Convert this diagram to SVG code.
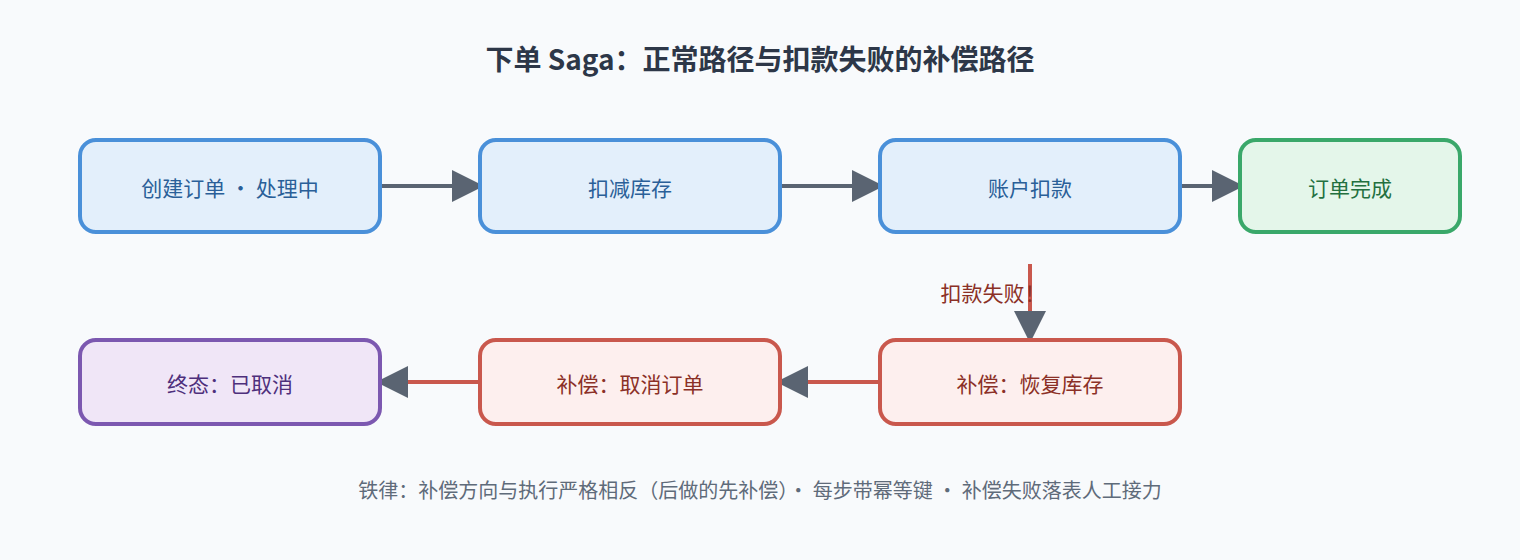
<svg xmlns="http://www.w3.org/2000/svg" width="1520" height="560" viewBox="0 0 1520 560">
<style>
text{font-family:"Noto Sans CJK SC","Noto Sans",sans-serif;text-anchor:middle;dominant-baseline:central}
.t{font-size:28px;font-weight:bold;fill:#2d3748}
.n{font-size:21px}
.blue rect{fill:#e3effb;stroke:#4a90d9;stroke-width:4}
.blue text{fill:#2a5f98}
.green rect{fill:#e4f6ea;stroke:#3aa86a;stroke-width:4}
.green text{fill:#23703f}
.red rect{fill:#fdefee;stroke:#c9584d;stroke-width:4}
.red text{fill:#8b3026}
.purple rect{fill:#f0e6f7;stroke:#7c58b0;stroke-width:4}
.purple text{fill:#4e2f7c}
.c{stroke-width:4;fill:none}
.g{stroke:#5a6472}
.r{stroke:#c9584d}
</style>
<defs>
<marker id="ah" viewBox="0 0 10 10" refX="10" refY="5" markerWidth="8" markerHeight="8" orient="auto"><path d="M0,0 L10,5 L0,10 z" fill="#5a6472"/></marker>
</defs>
<rect width="1520" height="560" fill="#f8fafc"/>
<text class="t" x="760" y="58">下单 Saga：正常路径与扣款失败的补偿路径</text>
<g id="connectors">
<line class="c g" x1="380" y1="186" x2="484" y2="186" marker-end="url(#ah)"/>
<line class="c g" x1="780" y1="186" x2="884" y2="186" marker-end="url(#ah)"/>
<line class="c g" x1="1180" y1="186" x2="1244" y2="186" marker-end="url(#ah)"/>
<line class="c r" x1="1030" y1="264" x2="1030" y2="343" marker-end="url(#ah)"/>
<line class="c r" x1="880" y1="382" x2="776" y2="382" marker-end="url(#ah)"/>
<line class="c r" x1="480" y1="382" x2="376" y2="382" marker-end="url(#ah)"/>
<text class="n" x="993" y="292" fill="#8b3026">扣款失败！</text>
</g>
<g id="create" class="blue"><rect x="80" y="140" width="300" height="92" rx="16"/><text class="n" x="230" y="187">创建订单 · 处理中</text></g>
<g id="stock" class="blue"><rect x="480" y="140" width="300" height="92" rx="16"/><text class="n" x="630" y="187">扣减库存</text></g>
<g id="pay" class="blue"><rect x="880" y="140" width="300" height="92" rx="16"/><text class="n" x="1030" y="187">账户扣款</text></g>
<g id="done" class="green"><rect x="1240" y="140" width="220" height="92" rx="16"/><text class="n" x="1350" y="187">订单完成</text></g>
<g id="restore" class="red"><rect x="880" y="340" width="300" height="84" rx="16"/><text class="n" x="1030" y="383">补偿：恢复库存</text></g>
<g id="cancel" class="red"><rect x="480" y="340" width="300" height="84" rx="16"/><text class="n" x="630" y="383">补偿：取消订单</text></g>
<g id="final" class="purple"><rect x="80" y="340" width="300" height="84" rx="16"/><text class="n" x="230" y="383">终态：已取消</text></g>
<text x="760" y="489" font-size="20" fill="#5f6b7a">铁律：补偿方向与执行严格相反（后做的先补偿）· 每步带幂等键 · 补偿失败落表人工接力</text>
</svg>
